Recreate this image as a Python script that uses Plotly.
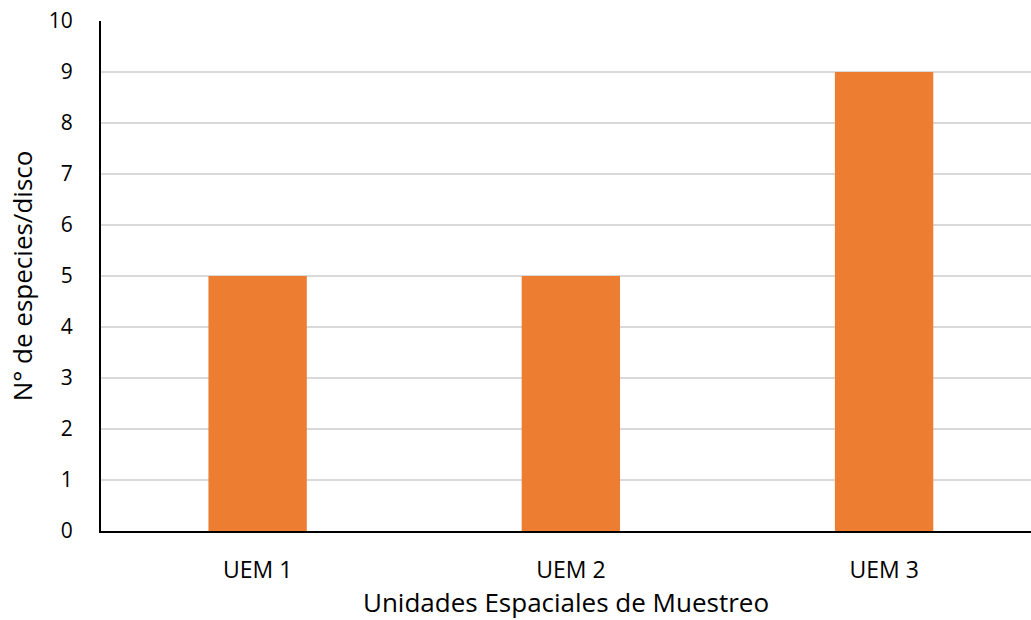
import plotly.graph_objects as go

# Species counts per spatial sampling unit
categorias = ["UEM 1", "UEM 2", "UEM 3"]
especies = [5, 5, 9]
y_ticks = list(range(0, 11))

FONT = "Open Sans, Carlito, Calibri, sans-serif"

fig = go.Figure(
    go.Bar(
        x=categorias,
        y=especies,
        width=0.314,
        marker=dict(color="#ED7D31", line=dict(width=0)),
    )
)

fig.update_layout(
    width=1031,
    height=620,
    margin=dict(l=101, r=0, t=21, b=89),
    paper_bgcolor="white",
    plot_bgcolor="white",
    showlegend=False,
    font=dict(family=FONT, color="#000000"),
)

fig.update_xaxes(
    type="category",
    range=[-0.5, 2.469],
    showline=True,
    linecolor="#000000",
    linewidth=2,
    ticks="",
    ticklabelstandoff=17,
    tickfont=dict(size=23, family=FONT),
    title=dict(text="Unidades Espaciales de Muestreo", font=dict(size=26, family=FONT), standoff=14),
    showgrid=False,
)

fig.update_yaxes(
    range=[0, 10],
    tickvals=y_ticks,
    showline=True,
    linecolor="#000000",
    linewidth=2,
    ticks="",
    ticklabelstandoff=22,
    tickfont=dict(size=21, family=FONT),
    showgrid=True,
    gridcolor="#D9D9D9",
    gridwidth=1.5,
    zeroline=False,
    title=dict(text="N° de especies/disco", font=dict(size=26, family=FONT), standoff=9),
)

fig.write_html("out.html")
